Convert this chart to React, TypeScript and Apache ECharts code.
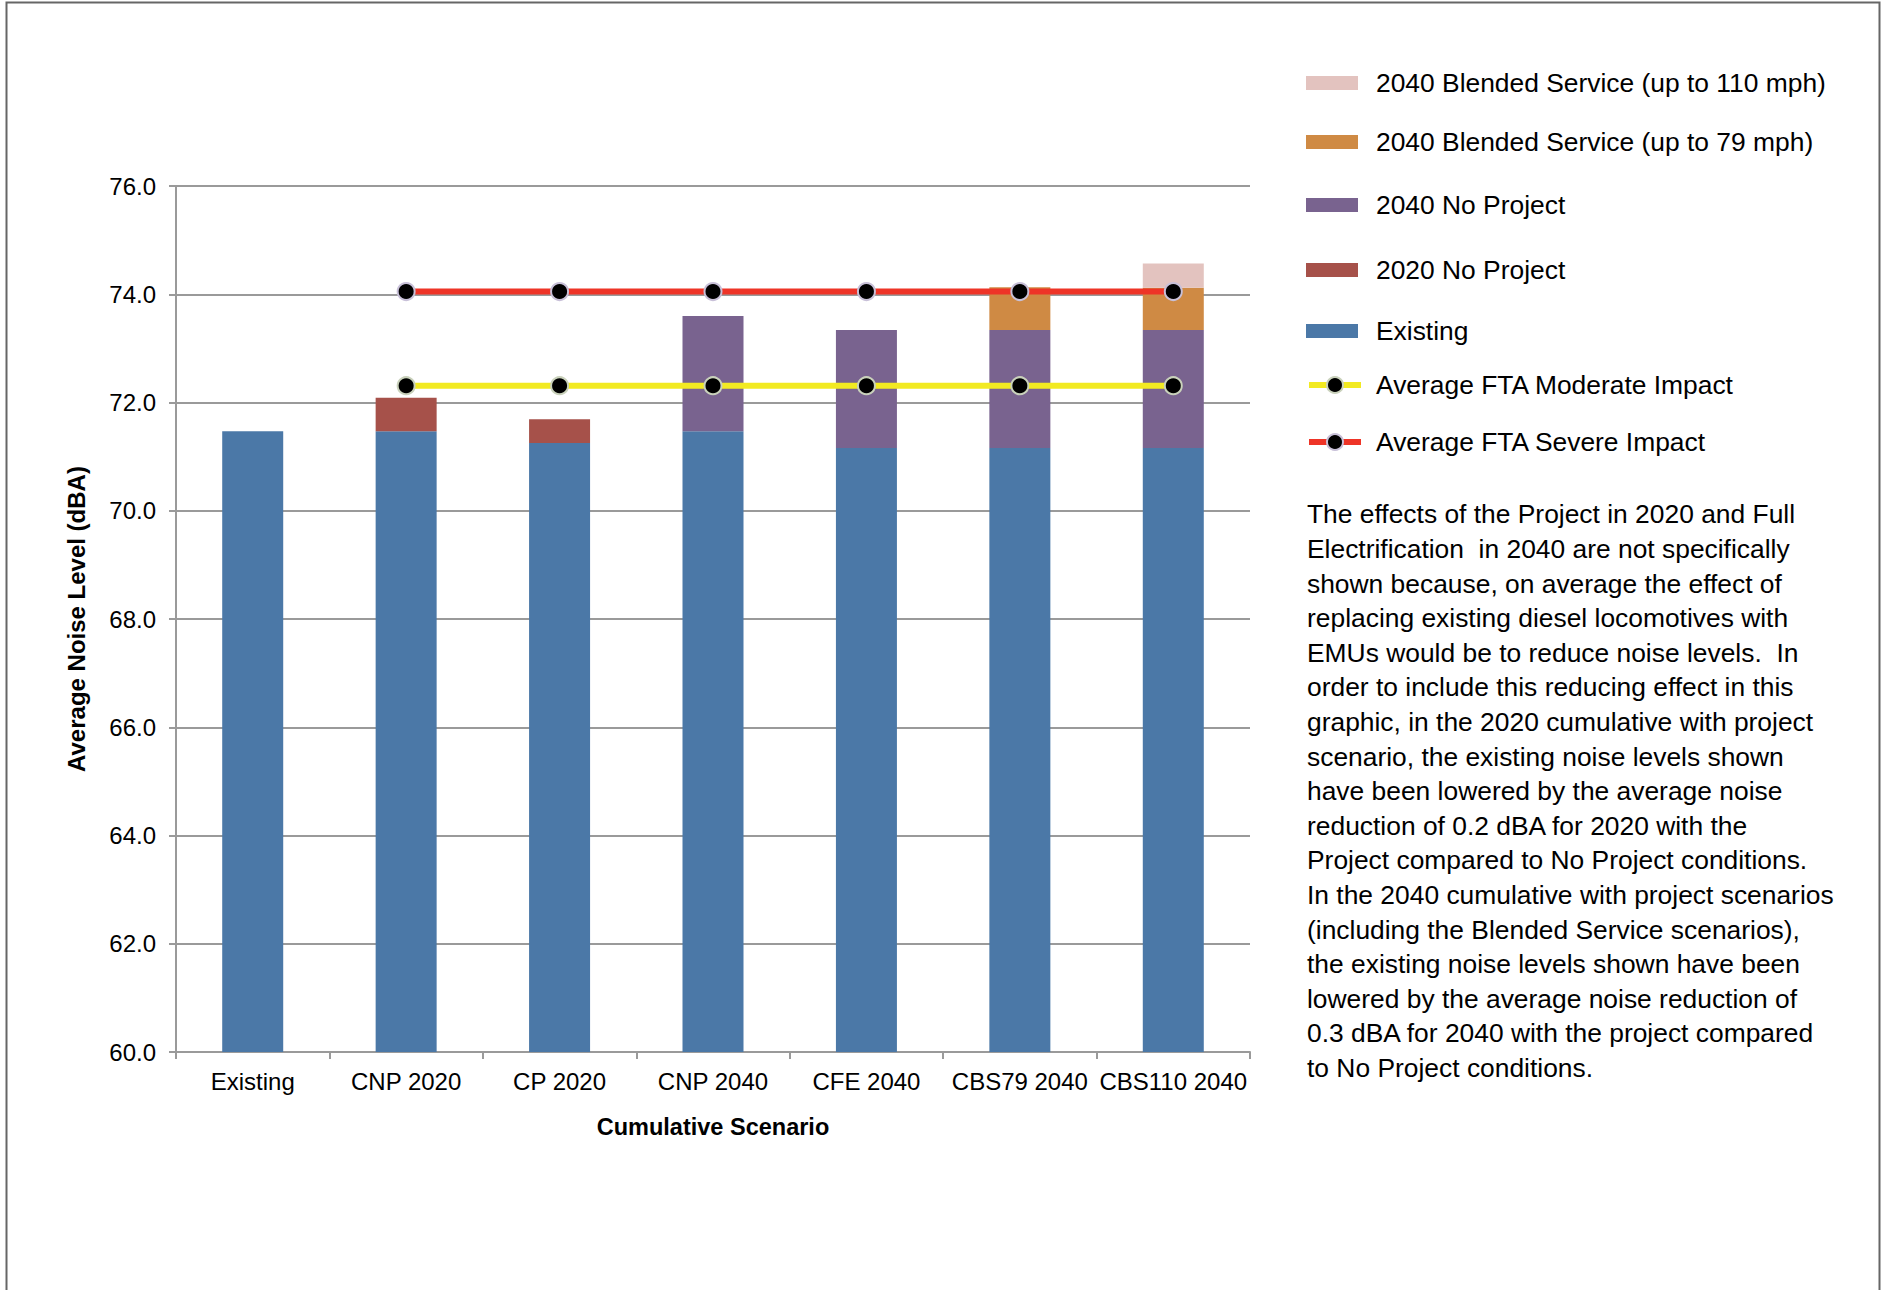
import React, { useEffect, useRef } from "react";
import * as echarts from "echarts";

const CATEGORIES = ["Existing", "CNP 2020", "CP 2020", "CNP 2040", "CFE 2040", "CBS79 2040", "CBS110 2040"];
const EXISTING = [71.47, 71.47, 71.25, 71.47, 71.16, 71.16, 71.16];
const NP2020 = [0, 0.62, 0.44, 0, 0, 0, 0];
const NP2040 = [0, 0, 0, 2.13, 2.18, 2.18, 2.18];
const BS79 = [0, 0, 0, 0, 0, 0.79, 0.78];
const BS110 = [0, 0, 0, 0, 0, 0, 0.45];
const MODERATE = [null, 72.31, 72.31, 72.31, 72.31, 72.31, 72.31];
const SEVERE = [null, 74.05, 74.05, 74.05, 74.05, 74.05, 74.05];

const Y_MIN = 60;
const Y_MAX = 76;
const Y_STEP = 2;

const LEGEND_ORDER = [
  "2040 Blended Service (up to 110 mph)",
  "2040 Blended Service (up to 79 mph)",
  "2040 No Project",
  "2020 No Project",
  "Existing",
  "Average FTA Moderate Impact",
  "Average FTA Severe Impact",
];
const LEGEND_CENTERS = [83, 142, 205, 270, 331, 385, 442];

const NOTE_LINES = [
  "The effects of the Project in 2020 and Full",
  "Electrification  in 2040 are not specifically",
  "shown because, on average the effect of",
  "replacing existing diesel locomotives with",
  "EMUs would be to reduce noise levels.  In",
  "order to include this reducing effect in this",
  "graphic, in the 2020 cumulative with project",
  "scenario, the existing noise levels shown",
  "have been lowered by the average noise",
  "reduction of 0.2 dBA for 2020 with the",
  "Project compared to No Project conditions.",
  "In the 2040 cumulative with project scenarios",
  "(including the Blended Service scenarios),",
  "the existing noise levels shown have been",
  "lowered by the average noise reduction of",
  "0.3 dBA for 2040 with the project compared",
  "to No Project conditions.",
];

const FONT = "'Liberation Sans', Arial, Helvetica, sans-serif";
const AXIS_GRAY = "#9a9a9a";

export default function App() {
  const ref = useRef<HTMLDivElement>(null);

  useEffect(() => {
    if (!ref.current) return;
    const chart = echarts.init(ref.current, null, { renderer: "svg" });

    const barSeries = (name: string, data: number[], color: string) => ({
      name,
      type: "bar",
      stack: "total",
      data,
      barWidth: 61,
      itemStyle: { color },
      emphasis: { disabled: true },
    });

    const lineSeries = (name: string, data: (number | null)[], color: string, border: string) => ({
      name,
      type: "line",
      data,
      symbol: "circle",
      symbolSize: 17,
      showSymbol: true,
      lineStyle: { color, width: 6 },
      itemStyle: { color: "#000", borderColor: border, borderWidth: 2 },
      z: 5,
      emphasis: { disabled: true },
    });

    const legends = LEGEND_ORDER.map((name, i) => {
      const isLine = i >= 5;
      const base: any = {
        data: [name],
        orient: "vertical",
        left: 1306,
        top: LEGEND_CENTERS[i] - 13,
        padding: 0,
        itemWidth: 52,
        itemHeight: isLine ? 20 : 14,
        selectedMode: false,
        textStyle: {
          fontFamily: FONT,
          fontSize: 26.4,
          color: "#000",
          padding: [0, 0, 0, isLine ? 10 : 13],
        },
      };
      if (isLine) {
        base.lineStyle = { width: 6 };
      } else {
        base.icon = "rect";
      }
      return base;
    });

    const option = {
      animation: false,
      backgroundColor: "#fff",
      textStyle: { fontFamily: FONT },
      grid: { left: 176, right: 631, top: 186, bottom: 238, containLabel: false },
      legend: legends,
      xAxis: {
        type: "category",
        data: CATEGORIES,
        boundaryGap: true,
        name: "Cumulative Scenario",
        nameLocation: "middle",
        nameGap: 63,
        nameTextStyle: { fontFamily: FONT, fontSize: 23.5, fontWeight: "bold", color: "#000" },
        axisLine: { lineStyle: { color: AXIS_GRAY, width: 2 } },
        axisTick: { show: true, length: 7, alignWithLabel: false, lineStyle: { color: AXIS_GRAY, width: 2 } },
        axisLabel: { fontFamily: FONT, fontSize: 24, color: "#000", margin: 17, interval: 0 },
      },
      yAxis: {
        type: "value",
        min: Y_MIN,
        max: Y_MAX,
        interval: Y_STEP,
        name: "Average Noise Level (dBA)",
        nameLocation: "middle",
        nameGap: 88,
        nameTextStyle: { fontFamily: FONT, fontSize: 24, fontWeight: "bold", color: "#000" },
        axisLine: { show: true, lineStyle: { color: AXIS_GRAY, width: 2 } },
        axisTick: { show: true, length: 7, lineStyle: { color: AXIS_GRAY, width: 2 } },
        axisLabel: {
          fontFamily: FONT,
          fontSize: 24,
          color: "#000",
          margin: 20,
          formatter: (v: number) => v.toFixed(1),
        },
        splitLine: { show: true, lineStyle: { color: AXIS_GRAY, width: 2 } },
      },
      graphic: [
        {
          type: "rect",
          left: 4,
          top: 0,
          shape: { x: 0, y: 0, width: 1873, height: 1300 },
          style: { fill: "none", stroke: "#666", lineWidth: 2 },
          silent: true,
        },
        {
          type: "text",
          left: 1307,
          top: 497,
          style: {
            text: NOTE_LINES.join("\n"),
            fontFamily: FONT,
            fontSize: 26.4,
            lineHeight: 34.6,
            fill: "#000",
          },
          silent: true,
        },
      ],
      series: [
        barSeries("Existing", EXISTING, "#4B78A7"),
        barSeries("2020 No Project", NP2020, "#A6514A"),
        barSeries("2040 No Project", NP2040, "#79638F"),
        barSeries("2040 Blended Service (up to 79 mph)", BS79, "#CF8A44"),
        barSeries("2040 Blended Service (up to 110 mph)", BS110, "#E3C3BF"),
        lineSeries("Average FTA Moderate Impact", MODERATE, "#F2EA22", "#c9d1bb"),
        lineSeries("Average FTA Severe Impact", SEVERE, "#EE3427", "#c8c0d8"),
      ],
    };

    chart.setOption(option as any);
    return () => chart.dispose();
  }, []);

  return (
    <div
      ref={ref}
      style={{ position: "absolute", left: 0, top: 0, width: 1881, height: 1290 }}
    />
  );
}
